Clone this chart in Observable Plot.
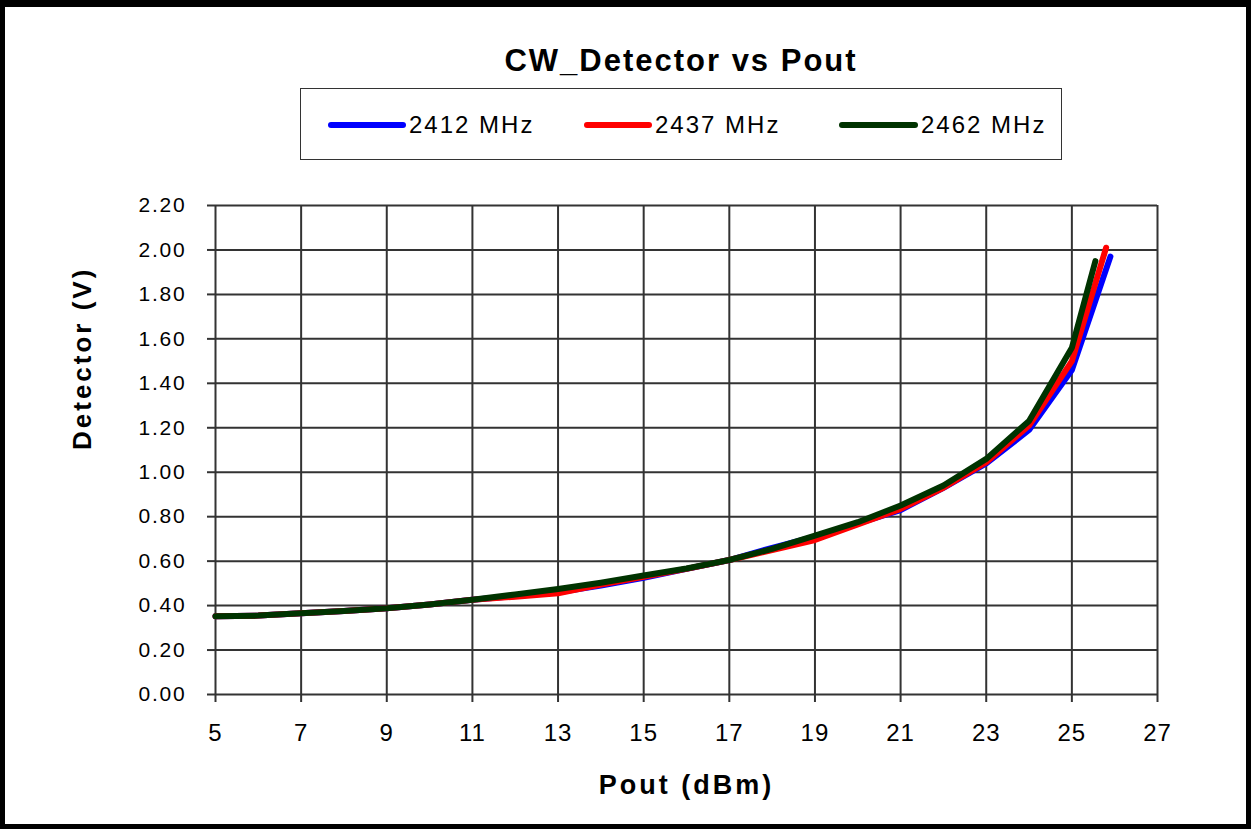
<!DOCTYPE html>
<html>
<head>
<meta charset="utf-8">
<script src="https://cdn.jsdelivr.net/npm/d3@7"></script>
<script src="https://cdn.jsdelivr.net/npm/@observablehq/plot@0.6"></script>
<style>
  html, body { margin: 0; padding: 0; background: #fff; }
  #wrap { position: relative; width: 1251px; height: 829px; overflow: hidden; font-family: "Liberation Sans", Arial, sans-serif; }
  #frame { position: absolute; left: 0; top: 0; width: 1251px; height: 829px; box-sizing: border-box;
           border: 5px solid #000; border-top-width: 7px; pointer-events: none; }
  #title { position: absolute; left: 381px; width: 600px; top: 45px; text-align: center; font-size: 31px; font-weight: bold;
           letter-spacing: 2px; color: #000; line-height: 1; }
  #legend { position: absolute; left: 300px; top: 88px; width: 762px; height: 72px; box-sizing: border-box;
            border: 1.5px solid #333; }
  .sw { position: absolute; height: 6px; border-radius: 3px; }
  .lt { position: absolute; font-size: 24px; letter-spacing: 2px; color: #000; line-height: 1; }
  #chart { position: absolute; left: 0; top: 0; }
  g[aria-label="y-axis tick label"] text { letter-spacing: 1.8px; }
  g[aria-label="x-axis tick label"] text { letter-spacing: 1px; }
</style>
</head>
<body>
<div id="wrap">
  <div id="chart"></div>
  <div id="title"></div>
  <div id="legend"></div>
  <div id="frame"></div>
</div>
<script>
// ---- data ----
const seriesNames = ["2412 MHz", "2437 MHz", "2462 MHz"];
const seriesColors = ["#0000ff", "#ff0000", "#003300"];

const pout2412 = [5, 6, 7, 8, 9, 10, 11, 12, 13, 14, 15, 16, 17, 18, 19, 20, 21, 22, 23, 24, 25, 25.9];
const det2412  = [0.352, 0.355, 0.366, 0.376, 0.388, 0.405, 0.426, 0.443, 0.46, 0.49, 0.525, 0.565, 0.605, 0.66, 0.71, 0.77, 0.83, 0.93, 1.04, 1.19, 1.46, 1.97];

const pout2437 = [5, 6, 7, 8, 9, 10, 11, 12, 13, 14, 15, 16, 17, 18, 19, 20, 21, 22, 23, 24, 25, 25.8];
const det2437  = [0.352, 0.355, 0.366, 0.376, 0.388, 0.405, 0.426, 0.44, 0.455, 0.495, 0.53, 0.565, 0.605, 0.65, 0.695, 0.765, 0.835, 0.93, 1.045, 1.21, 1.50, 2.01];

const pout2462 = [5, 6, 7, 8, 9, 10, 11, 12, 13, 14, 15, 16, 17, 18, 19, 20, 21, 22, 23, 24, 25, 25.55];
const det2462  = [0.352, 0.355, 0.366, 0.376, 0.388, 0.405, 0.426, 0.45, 0.475, 0.503, 0.535, 0.567, 0.605, 0.655, 0.715, 0.775, 0.85, 0.94, 1.06, 1.23, 1.56, 1.95];

const xTicks = [5, 7, 9, 11, 13, 15, 17, 19, 21, 23, 25, 27];
const yTicks = [0, 0.2, 0.4, 0.6, 0.8, 1.0, 1.2, 1.4, 1.6, 1.8, 2.0, 2.2];

const titleText = "CW_Detector vs Pout";
const xLabel = "Pout (dBm)";
const yLabel = "Detector (V)";

// ---- build table ----
const pouts = [pout2412, pout2437, pout2462];
const dets = [det2412, det2437, det2462];
const rows = [];
seriesNames.forEach((s, i) => {
  pouts[i].forEach((p, j) => rows.push({series: s, pout: p, det: dets[i][j]}));
});

const font = "Liberation Sans, Arial, sans-serif";

const chart = Plot.plot({
  width: 1251,
  height: 829,
  marginLeft: 215,
  marginRight: 94,
  marginTop: 205,
  marginBottom: 135,
  style: {fontFamily: font, background: "transparent", color: "#000"},
  x: {domain: [5, 27], ticks: xTicks},
  y: {domain: [0, 2.2], ticks: yTicks},
  color: {domain: seriesNames, range: seriesColors},
  marks: [
    Plot.ruleX(xTicks, {stroke: "#333", strokeWidth: 2}),
    Plot.ruleY(yTicks, {stroke: "#333", strokeWidth: 2}),
    Plot.line(rows, {x: "pout", y: "det", z: "series", stroke: "series", strokeWidth: 6,
                     strokeLinejoin: "round", strokeLinecap: "round"}),
    Plot.axisY({ticks: yTicks, tickSize: 8, tickPadding: 21, tickFormat: d3.format(".2f"),
                fontSize: 21, label: null, stroke: "#333", strokeWidth: 2}),
    Plot.axisX({ticks: xTicks, tickSize: 8, tickPadding: 21, tickFormat: d => String(d),
                fontSize: 24, label: null, stroke: "#333", strokeWidth: 2}),
    Plot.text([xLabel], {frameAnchor: "bottom", dy: 99, text: d => d, fontSize: 27, fontWeight: "bold",
                         fill: "#000"}),
    Plot.text([yLabel], {frameAnchor: "left", dx: -133, rotate: -90, text: d => d, fontSize: 26, fontWeight: "bold",
                         fill: "#000"})
  ]
});
d3.select(chart).selectAll("text")
  .filter(function() { return this.textContent === xLabel || this.textContent === yLabel; })
  .style("letter-spacing", "3px");
document.getElementById("chart").appendChild(chart);

document.getElementById("title").textContent = titleText;

// legend
const legend = document.getElementById("legend");
const swatchX = [27, 283, 538];   // relative to legend box
const swatchW = [78, 68, 79];
seriesNames.forEach((s, i) => {
  const sw = document.createElement("div");
  sw.className = "sw";
  sw.style.left = swatchX[i] + "px";
  sw.style.top = "33px";
  sw.style.width = swatchW[i] + "px";
  sw.style.background = seriesColors[i];
  legend.appendChild(sw);
  const t = document.createElement("div");
  t.className = "lt";
  t.style.left = (swatchX[i] + swatchW[i] + 3) + "px";
  t.style.top = "24px";
  t.textContent = s;
  legend.appendChild(t);
});
</script>
</body>
</html>
